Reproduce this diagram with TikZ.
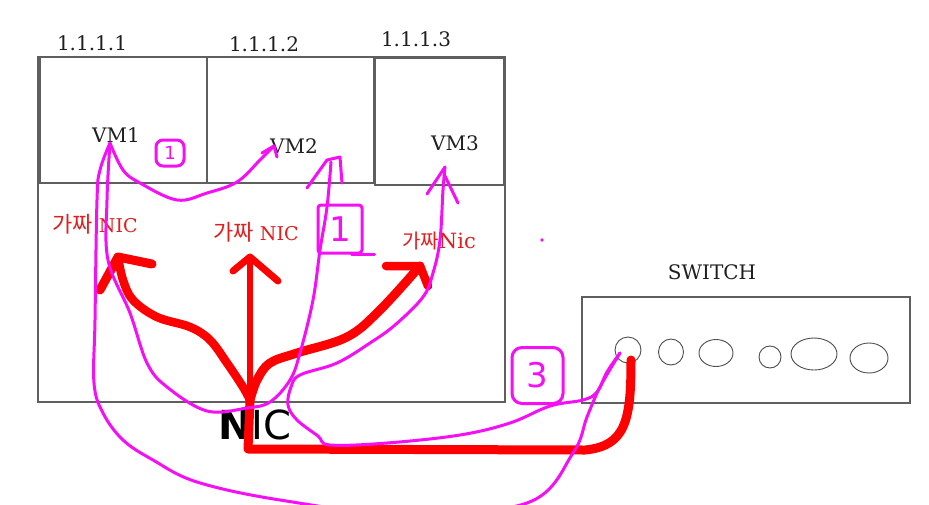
\documentclass[tikz,border=0pt]{standalone}
\usepackage{fontspec}
\setmainfont{DejaVu Serif}
\newfontfamily\cjk{Noto Sans CJK KR}
\newfontfamily\handfont{DejaVu Sans}
\usetikzlibrary{shapes.geometric}
\definecolor{boxgray}{RGB}{95,95,95}
\definecolor{fakered}{RGB}{225,30,30}
\definecolor{pen}{RGB}{245,15,245}
\begin{document}
\begin{tikzpicture}[x=1pt,y=-1pt,
  frame/.style={draw=boxgray,line width=1.7pt,inner sep=0pt},
  lbl/.style={font=\fontsize{20}{22}\selectfont,text=black!88,anchor=base},
  fake/.style={font=\fontsize{19}{22}\selectfont,text=fakered,anchor=base},
  redpen/.style={draw=red,line width=8.5pt,line cap=round,line join=round},
  pinkpen/.style={draw=pen,line width=3pt,line cap=round,line join=round},
  port/.style={draw=black!70,line width=0.9pt,ellipse,inner sep=0pt},
  numbox/.style={draw=pen,line width=3pt,rounded corners=7pt,inner sep=0pt,
    text=pen,font=\handfont\fontsize{34}{34}\selectfont}]
\useasboundingbox (0,0) rectangle (929,504);
\clip (0,0) rectangle (929,504);
\fill[white] (0,0) rectangle (929,504);

% host and VM boxes
\node[frame,minimum width=467pt,minimum height=345pt] (host) at (271.5,229.5) {};
\node[frame,minimum width=167pt,minimum height=126pt] (vm1box) at (123.5,120) {};
\node[frame,minimum width=167pt,minimum height=126pt] (vm2box) at (290.5,120) {};
\node[frame,minimum width=129pt,minimum height=127pt] (vm3box) at (439.5,121.5) {};

% labels
\node[lbl] (ip1) at (92,50) {1.1.1.1};
\node[lbl] (ip2) at (264,51) {1.1.1.2};
\node[lbl] (ip3) at (416,46) {1.1.1.3};
\node[lbl] (vm1) at (116,142) {VM1};
\node[lbl] (vm2) at (294,153) {VM2};
\node[lbl] (vm3) at (455,150) {VM3};
\node[fake] (fn1) at (95,232) {{\cjk\fontsize{22}{22}\selectfont 가짜} NIC};
\node[fake] (fn2) at (256,240) {{\cjk\fontsize{22}{22}\selectfont 가짜} NIC};
\node[fake] (fn3) at (439,248) {{\cjk\fontsize{20}{22}\selectfont 가짜}\fontsize{21}{22}\selectfont Nic};

% switch
\node[lbl] (swlbl) at (712,279) {SWITCH};
\node[frame,line width=1.4pt,minimum width=328pt,minimum height=106pt] (switch) at (746,350) {};
\node[port,minimum width=26pt,minimum height=26pt] (p1) at (628,350) {};
\node[port,minimum width=25pt,minimum height=26pt] (p2) at (671,352) {};
\node[port,minimum width=34pt,minimum height=27pt] (p3) at (716,353) {};
\node[port,minimum width=22pt,minimum height=22pt] (p4) at (770,357) {};
\node[port,minimum width=46pt,minimum height=32pt] (p5) at (814,354) {};
\node[port,minimum width=38pt,minimum height=30pt] (p6) at (869,358) {};

% physical NIC
\node[font=\handfont\fontsize{40}{40}\selectfont,anchor=base,text=black,inner sep=0pt] (niclbl) at (255,439) {{\bfseries N}IC};

% coordinates
\coordinate (nic) at (250,400);
\coordinate (rt1) at (118,257);
\coordinate (rt2) at (250,257);
\coordinate (rt3) at (420,266);
\coordinate (portin) at (631,360);
\coordinate (vm1tip) at (110,143);
\coordinate (vm2tipa) at (274,146);
\coordinate (vm2tipb) at (331,162);
\coordinate (vm3tip) at (445,167);
\coordinate (porttip) at (620,353);

% red wires
\draw[redpen,line width=6pt] (nic) -- (rt2);
\draw[redpen,line width=7pt] (233,271) -- (rt2) -- (278,281);
\draw[redpen] plot[smooth,tension=0.6] coordinates {(nic) (243,387) (227,363) (210,340) (190,327) (157,317) (133,300) (123,280) (rt1)};
\draw[redpen,line width=9pt] (100,290) -- (rt1) -- (152,264);
\draw[redpen,line width=9pt] plot[smooth,tension=0.6] coordinates {(nic) (257,380) (270,363) (297,353) (347,337) (380,310) (rt3)};
\draw[redpen] (386,266) -- (rt3) -- (428,286);
\draw[redpen,line width=9pt] (nic) -- (248,449) -- (585,450) .. controls (626,446) and (631,420) .. (portin);

% magenta pen strokes
% (1) VM1 -> VM2 directly
\draw[pinkpen] plot[smooth,tension=0.6] coordinates {(vm1tip) (123,170) (140,183) (177,200) (207,193) (237,182) (260,160) (vm2tipa)};
\draw[pinkpen] (262,153) -- (vm2tipa) -- (277,157);
% VM1 -> NIC -> VM2
\draw[pinkpen] plot[smooth,tension=0.6] coordinates {(vm1tip) (107,200) (108,260) (130,313) (147,363) (167,387) (207,411) (247,408) (270,402) (290,380) (300,353) (313,300) (320,250) (327,207) (vm2tipb)};
\draw[pinkpen] (307,188) -- (327,160) -- (340,157) -- (342,183);
% VM1 -> switch (big loop)
\draw[pinkpen] plot[smooth,tension=0.6] coordinates {(vm1tip) (100,170) (97,200) (95,320) (94,383) (103,413) (123,440) (153,460) (197,482) (280,500) (400,514) (527,503) (573,453) (587,417) (600,387) (porttip)};
% switch -> VM3
\draw[pinkpen] plot[smooth,tension=0.6] coordinates {(porttip) (607,372) (597,392) (583,400) (550,406) (510,423) (460,435) (387,443) (330,445) (318,436) (297,420) (288,405) (291,387) (300,375) (337,363) (370,343) (395,325) (423,297) (433,273) (440,240) (443,190) (vm3tip)};
\draw[pinkpen] (427,194) -- (vm3tip);
\draw[pinkpen] (445,176) -- (458,203);
\fill[pen] (542,240) circle (1.8);

% numbers
\node[numbox,minimum width=28pt,minimum height=26pt,font=\handfont\fontsize{18}{18}\selectfont] (n1a) at (170,153) {1};
\node[numbox,rounded corners=3pt,minimum width=44pt,minimum height=48pt] (n1b) at (340,229) {1};
\draw[pinkpen] ([xshift=-12pt]n1b.south east) -- ++(23,0);
\node[numbox,rounded corners=10pt,minimum width=51pt,minimum height=56pt] (n3) at (537.5,375.5) {3};
\end{tikzpicture}
\end{document}
